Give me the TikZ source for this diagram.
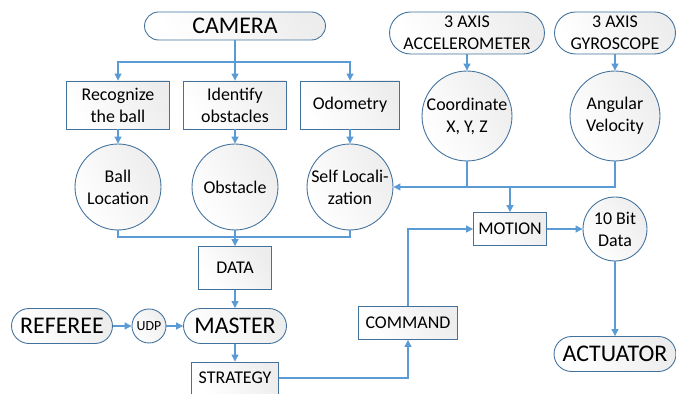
\documentclass[tikz,border=0pt]{standalone}
\usepackage{fontspec}
\setmainfont{Carlito}
\usetikzlibrary{arrows.meta}
\definecolor{edgeblue}{HTML}{41719C}
\definecolor{lineblue}{HTML}{5B9BD5}
\tikzset{
	shade fill/.style={draw=edgeblue, line width=0.5pt, left color=white, right color=black!7, shading angle=120},
	blk/.style={shade fill, rectangle, align=center, inner sep=0pt,
		font=\fontsize{10.2}{12.5}\selectfont},
	bubble/.style={shade fill, circle, align=center, inner sep=0pt,
		font=\fontsize{10.2}{12.5}\selectfont},
	pill/.style={shade fill, rectangle, rounded corners=#1, align=center, inner sep=0pt,
		font=\fontsize{10.2}{12.5}\selectfont},
	big/.style={font=\fontsize{13.6}{16}\selectfont},
	link/.style={draw=lineblue, line width=0.6pt},
	flow/.style={link, -{Triangle[length=4pt,width=4pt]}}
}

\begin{document}
\begin{tikzpicture}[x=0.02cm, y=-0.02cm]
	\useasboundingbox (0, 0) rectangle (676, 394);

	% vision branch
	\node[pill=8pt, big, minimum width=3.62cm, minimum height=0.56cm] (cam) at (235, 26) {CAMERA};
	\node[blk, minimum width=2.06cm, minimum height=0.96cm] (rec) at (118, 105) {Recognize\\the ball};
	\node[blk, minimum width=2.06cm, minimum height=0.96cm] (idf) at (235, 105) {Identify\\obstacles};
	\node[blk, minimum width=1.98cm, minimum height=0.96cm] (odo) at (350, 105) {Odometry};
	\node[bubble, minimum size=1.72cm] (ball) at (118, 187) {Ball\\Location};
	\node[bubble, minimum size=1.72cm] (obst) at (235, 187) {Obstacle};
	\node[bubble, minimum size=1.72cm] (self) at (350, 187) {Self Locali-\\zation};
	\coordinate (camsplit) at (235, 62);
	\coordinate (datasplit) at (235, 237);

	% inertial sensors
	\node[pill=12pt, minimum width=3.1cm, minimum height=0.84cm] (acc) at (467, 33) {3 AXIS\\ACCELEROMETER};
	\node[pill=12pt, minimum width=2.42cm, minimum height=0.84cm] (gyro) at (615, 33) {3 AXIS\\GYROSCOPE};
	\node[bubble, minimum size=1.8cm] (coord) at (467, 116) {Coordinate\\X, Y, Z};
	\node[bubble, minimum size=1.8cm] (ang) at (615, 116) {Angular\\Velocity};

	% decision and drive
	\node[blk, minimum width=1.46cm, minimum height=0.86cm] (data) at (235, 268) {DATA};
	\node[pill=10pt, big, minimum width=2.06cm, minimum height=0.7cm] (master) at (235, 326) {MASTER};
	\node[pill=10pt, big, minimum width=2.02cm, minimum height=0.7cm] (ref) at (62, 326) {REFEREE};
	\node[bubble, minimum size=0.68cm, font=\fontsize{7.9}{9}\selectfont] (udp) at (149, 326) {UDP};
	\node[blk, minimum width=1.74cm, minimum height=0.64cm] (strat) at (235, 378) {STRATEGY};
	\node[blk, minimum width=1.98cm, minimum height=0.66cm] (cmd) at (408, 323) {COMMAND};
	\node[blk, minimum width=1.46cm, minimum height=0.66cm] (motion) at (510, 229) {MOTION};
	\node[bubble, minimum size=1.28cm] (bits) at (615, 229) {10 Bit\\Data};
	\node[pill=10pt, big, minimum width=2.44cm, minimum height=0.7cm] (act) at (615, 354) {ACTUATOR};

	\draw[link] (cam) -- (camsplit);
	\draw[flow] (camsplit) -| (rec);
	\draw[flow] (camsplit) -- (idf);
	\draw[flow] (camsplit) -| (odo);
	\draw[flow] (rec) -- (ball);
	\draw[flow] (idf) -- (obst);
	\draw[flow] (odo) -- (self);

	\draw[link] (ball) |- (datasplit);
	\draw[link] (self) |- (datasplit);
	\draw[flow] (obst) -- (data);

	\draw[flow] (acc) -- (coord);
	\draw[flow] (gyro) -- (ang);
	\draw[flow] (ang) |- (self);
	\draw[link] (coord) -- (coord |- self);
	\draw[flow] (motion |- self) -- (motion);

	\draw[flow] (data) -- (master);
	\draw[flow] (ref) -- (udp);
	\draw[flow] (udp) -- (master);
	\draw[flow] (master) -- (strat);
	\draw[flow] (strat) -| (cmd);
	\draw[flow] (cmd) |- (motion);
	\draw[flow] (motion) -- (bits);
	\draw[flow] (bits) -- (act);
\end{tikzpicture}
\end{document}
